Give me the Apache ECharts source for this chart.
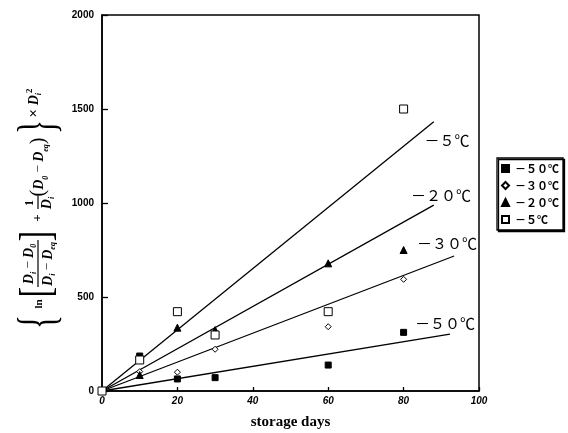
<!DOCTYPE html>
<html>
<head>
<meta charset="utf-8">
<script src="https://cdn.jsdelivr.net/npm/echarts@6/dist/echarts.min.js"></script>
<style>
html, body { margin: 0; padding: 0; background: #fff; }
#chart { width: 568px; height: 433px; }
</style>
</head>
<body>
<div id="chart"></div>
<script>
var seriesNames = ['－５０℃', '－３０℃', '－２０℃', '－５℃'];
var days = [0, 10, 20, 30, 60, 80];
var valM50 = [0, 186, 64, 71, 138, 312];
var valM30 = [0, 103, 100, 222, 342, 594];
var valM20 = [0, 85, 337, 324, 679, 750];
var valM5 = [0, 165, 422, 298, 422, 1500];

// fitted straight lines, [day, value] at both ends
var fitM50 = [[0, 0], [92.3, 303]];
var fitM30 = [[0, 0], [93.4, 718]];
var fitM20 = [[0, 0], [88, 989]];
var fitM5 = [[0, 0], [88, 1432]];
var fitLabels = ['－５０℃', '－３０℃', '－２０℃', '－５℃'];

var xTicks = [0, 20, 40, 60, 80, 100];
var yTicks = [0, 500, 1000, 1500, 2000];

function pairs(xs, ys) {
  return xs.map(function (x, i) { return [x, ys[i]]; });
}

var chart = echarts.init(document.getElementById('chart'), null, { renderer: 'canvas' });

var serif = 'Liberation Serif';
var cjk = 'Noto Sans CJK JP';
var tickFont = 'Liberation Sans Narrow, Liberation Sans, sans-serif';

// rich styles for the y axis formula
var mathRich = {
  D: { fontFamily: serif, fontStyle: 'italic', fontWeight: 'bold', fontSize: 14, lineHeight: 18, color: '#000' },
  s: { fontFamily: serif, fontStyle: 'italic', fontWeight: 'bold', fontSize: 8, lineHeight: 8, verticalAlign: 'bottom', color: '#000' },
  u: { fontFamily: serif, fontWeight: 'bold', fontSize: 9, lineHeight: 9, verticalAlign: 'top', color: '#000' },
  m: { fontFamily: serif, fontSize: 13, lineHeight: 18, color: '#000' },
  x: { fontFamily: serif, fontWeight: 'bold', fontSize: 15, lineHeight: 18, color: '#000' },
  p: { fontFamily: serif, fontSize: 20, lineHeight: 22, color: '#000' }
};

function mtext(x, y, str, extra) {
  var el = {
    type: 'text', x: x, y: y,
    style: {
      text: str, rich: mathRich, fill: '#000',
      font: 'bold 13px ' + serif,
      align: 'center', verticalAlign: 'middle',
      textAlign: 'center', textVerticalAlign: 'middle'
    }
  };
  if (extra) { for (var k in extra) el[k] = extra[k]; }
  return el;
}

function glyph(x, y, ch, font, sx) {
  return {
    type: 'text', x: x, y: y, scaleX: sx || 1,
    style: {
      text: ch, fill: '#000', font: font,
      align: 'center', verticalAlign: 'middle',
      textAlign: 'center', textVerticalAlign: 'middle'
    }
  };
}

function bar(x1, x2) {
  return { type: 'line', shape: { x1: x1, y1: 0, x2: x2, y2: 0 }, style: { stroke: '#000', lineWidth: 1.2 } };
}

var formula = {
  type: 'group',
  x: 38, y: 328,
  rotation: Math.PI / 2,
  children: [
    glyph(6, 2, '{', '52px ' + serif, 0.55),
    glyph(24, 1, 'ln', 'bold 11px ' + serif),
    glyph(36, 0, '[', '44px ' + serif, 0.7),
    mtext(64, -9, '{D|D}{s|i}{m| − }{D|D}{s|0}'),
    bar(41, 88),
    mtext(64, 10, '{D|D}{s|i}{m| − }{D|D}{s|eq}'),
    glyph(92, 0, ']', '44px ' + serif, 0.7),
    glyph(110, 0, '+', 'bold 13px ' + serif),
    glyph(125, -8, '1', 'bold 12px ' + serif),
    bar(119, 132),
    mtext(125, 9, '{D|D}{s|i}'),
    mtext(161, 1, '{p|(}{D|D}{s|0}{m| − }{D|D}{s|eq}{p|)}'),
    glyph(201, 2, '}', '52px ' + serif, 0.55),
    mtext(225, -4, '{x|× }{D|D}{s|i}{u|2}')
  ]
};

function lineLabel(x, y, str) {
  return {
    type: 'text', x: x, y: y,
    style: {
      text: str, fill: '#000', font: '15px ' + cjk,
      align: 'center', verticalAlign: 'middle',
      textAlign: 'center', textVerticalAlign: 'middle'
    }
  };
}

function fitSeries(name, pts) {
  return {
    name: name, type: 'line', data: pts,
    symbol: 'none', silent: true,
    lineStyle: { color: '#000', width: 1.3 },
    z: 1
  };
}

function pointSeries(name, vals, symbol, size, fill) {
  return {
    name: name, type: 'scatter', data: pairs(days, vals),
    symbol: symbol, symbolSize: size,
    itemStyle: { color: fill, borderColor: '#000', borderWidth: 1, opacity: 1 },
    z: 3
  };
}

chart.setOption({
  backgroundColor: '#fff',
  animation: false,
  grid: {
    left: 102, right: 89, top: 15, bottom: 42,
    outerBoundsMode: 'none',
    show: true, borderColor: '#000', borderWidth: 1.5, backgroundColor: 'transparent'
  },
  legend: {
    data: seriesNames,
    orient: 'vertical',
    left: 497, top: 158,
    padding: [5, 4, 5, 4],
    itemGap: 6,
    itemWidth: 7, itemHeight: 7,
    borderColor: '#000', borderWidth: 1.3,
    shadowColor: '#000', shadowOffsetX: 1.5, shadowOffsetY: 1.5, shadowBlur: 0,
    backgroundColor: '#fff',
    textStyle: { fontFamily: cjk, fontWeight: 'bold', fontSize: 11, color: '#000', padding: [0, 0, 0, 1] }
  },
  xAxis: {
    type: 'value',
    min: xTicks[0], max: xTicks[xTicks.length - 1], interval: xTicks[1] - xTicks[0],
    name: 'storage days',
    nameLocation: 'middle', nameGap: 24,
    nameTextStyle: { fontFamily: serif, fontWeight: 'bold', fontSize: 15, color: '#000' },
    axisLine: { show: true, lineStyle: { color: '#000', width: 1.5 } },
    axisTick: { show: true, inside: true, length: 4, lineStyle: { color: '#000', width: 1.3 } },
    axisLabel: { fontFamily: tickFont, fontWeight: 'bold', fontStyle: 'italic', fontSize: 10, color: '#000', margin: 5 },
    splitLine: { show: false }
  },
  yAxis: {
    type: 'value',
    min: yTicks[0], max: yTicks[yTicks.length - 1], interval: yTicks[1] - yTicks[0],
    axisLine: { show: true, lineStyle: { color: '#000', width: 1.5 } },
    axisTick: { show: true, inside: true, length: 6, lineStyle: { color: '#000', width: 1.3 } },
    axisLabel: {
      fontFamily: tickFont, fontWeight: 'bold', fontSize: 10, color: '#000', margin: 8,
      formatter: function (v) { return String(v); }
    },
    splitLine: { show: false }
  },
  graphic: [
    formula,
    lineLabel(447, 140, fitLabels[3]),
    lineLabel(441, 195, fitLabels[2]),
    lineLabel(447, 243, fitLabels[1]),
    lineLabel(445, 323, fitLabels[0])
  ],
  series: [
    fitSeries('fit50', fitM50),
    fitSeries('fit30', fitM30),
    fitSeries('fit20', fitM20),
    fitSeries('fit5', fitM5),
    pointSeries(seriesNames[0], valM50, 'rect', 6, '#000'),
    pointSeries(seriesNames[1], valM30, 'diamond', 6, '#fff'),
    pointSeries(seriesNames[2], valM20, 'triangle', 7, '#000'),
    pointSeries(seriesNames[3], valM5, 'rect', 8, '#fff')
  ]
});
</script>
</body>
</html>
